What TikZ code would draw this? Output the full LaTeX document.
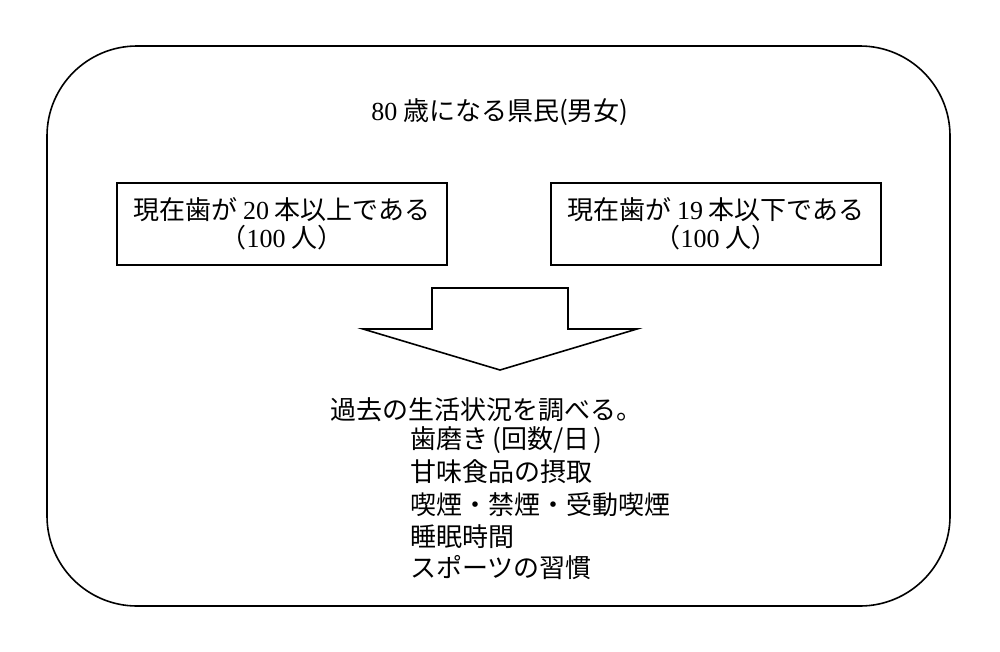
\documentclass[tikz,border=0pt]{standalone}
\usepackage{fontspec}
\setmainfont{Liberation Serif}
\newfontfamily\cjk{Noto Sans CJK JP}
\newcommand{\lat}[1]{{\rmfamily #1}}
\begin{document}
\begin{tikzpicture}[x=1pt,y=-1pt,
  every node/.style={font=\cjk\fontsize{26}{28}\selectfont, inner sep=0pt},
  boxstyle/.style={draw, line width=1.6pt, minimum width=330pt, minimum height=82pt, align=center},
  linestyle/.style={line width=1.6pt, line join=miter}]
\useasboundingbox[fill=white] (0,0) rectangle (1000,651);
\draw[linestyle, rounded corners=90pt] (47,46) rectangle (950,606);
\node (title) at (500,112) {\lat{80} 歳になる県民(男女)};
\node[boxstyle] (left) at (282,224) {現在歯が \lat{20} 本以上である\\（\lat{100} 人）};
\node[boxstyle] (right) at (716,224) {現在歯が \lat{19} 本以下である\\（\lat{100} 人）};
\coordinate (tip) at (500,370);
\draw[linestyle] (432,288) -- (568,288) -- (568,329) -- (637,329) -- (tip) -- (363,329) -- (432,329) -- cycle;
\node[anchor=west] (l1) at (330,410) {過去の生活状況を調べる。};
\node[anchor=west] (l2) at (410,440) {歯磨き\,(回数/日\,)};
\node[anchor=west] (l3) at (410,472) {甘味食品の摂取};
\node[anchor=west] (l4) at (410,505) {喫煙・禁煙・受動喫煙};
\node[anchor=west] (l5) at (410,537) {睡眠時間};
\node[anchor=west] (l6) at (410,568) {スポーツの習慣};
\end{tikzpicture}
\end{document}
